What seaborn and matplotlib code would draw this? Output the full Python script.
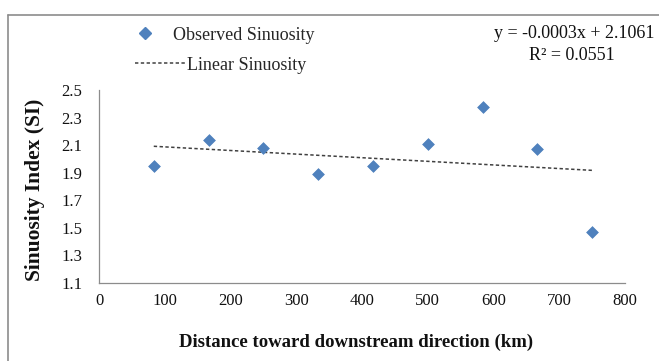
import matplotlib
matplotlib.use("Agg")
import matplotlib.pyplot as plt
import seaborn as sns
import pandas as pd
from matplotlib.lines import Line2D

distance_km = [83.3, 166.7, 250.0, 333.3, 416.7, 500.0, 583.3, 666.7, 750.0]
sinuosity = [1.95, 2.14, 2.08, 1.89, 1.95, 2.11, 2.38, 2.07, 1.47]
x_ticks = [0, 100, 200, 300, 400, 500, 600, 700, 800]
y_ticks = [1.1, 1.3, 1.5, 1.7, 1.9, 2.1, 2.3, 2.5]
equation_text = "y = -0.0003x + 2.1061"
r2_text = "R² = 0.0551"

df = pd.DataFrame({"distance": distance_km, "si": sinuosity})

sns.set_theme(style="white")
plt.rcParams["font.family"] = ["Liberation Serif", "DejaVu Serif"]

W, H = 659, 361
fig = plt.figure(figsize=(W / 100, H / 100), dpi=100)
ax = fig.add_axes([99 / W, 1 - 283 / H, (625 - 99) / W, (283 - 90) / H])

blue = "#4F81BD"
trend_color = "#404040"
trend_ls = (0, (2.2, 1.6))
sns.scatterplot(data=df, x="distance", y="si", marker="D", s=36, color=blue,
                edgecolor=blue, linewidth=0.5, ax=ax, zorder=3)
sns.regplot(data=df, x="distance", y="si", scatter=False, ci=None, truncate=True,
            ax=ax, line_kws=dict(color=trend_color, lw=1.1, ls=trend_ls))

ax.set_xlim(0, 800)
ax.set_ylim(1.1, 2.5)
ax.set_xticks(x_ticks)
ax.set_yticks(y_ticks)
ax.set_yticklabels([f"{v:.1f}" for v in y_ticks])
for side in ["top", "right"]:
    ax.spines[side].set_visible(False)
for side in ["left", "bottom"]:
    ax.spines[side].set_color("#8c8c8c")
    ax.spines[side].set_linewidth(0.9)
ax.tick_params(axis="both", which="major", direction="out", length=4, width=0.9,
               color="#8c8c8c", labelsize=12, labelcolor="#111111")
ax.tick_params(axis="x", pad=3)
ax.tick_params(axis="y", pad=8)
ax.set_xlabel("Distance toward downstream direction (km)", fontsize=13.5,
              fontweight="bold", color="#111111")
ax.set_ylabel("Sinuosity Index (SI)", fontsize=15.5, fontweight="bold",
              color="#111111")
ax.xaxis.set_label_coords((356 - 99) / 526, -(342 - 283) / 193)
ax.yaxis.set_label_coords(-(99 - 35) / 526, (283 - 190) / 193)
ax.xaxis.label.set_va("center")
ax.yaxis.label.set_va("center")

fs = 13
fs_px = fs * 100 / 72
# legend entry 1: marker
fig.legend([Line2D([], [], marker="D", ls="none", color=blue, markersize=5.8)],
           ["Observed Sinuosity"], loc="center left",
           bbox_to_anchor=(134 / W, 1 - 35 / H), frameon=False, fontsize=fs,
           handlelength=1.2, handletextpad=0.95, borderaxespad=0, borderpad=0)
# legend entry 2: trend line
fig.legend([Line2D([], [], color=trend_color, lw=1.1, ls=trend_ls)],
           ["Linear Sinuosity"], loc="center left",
           bbox_to_anchor=(135 / W, 1 - 65 / H), frameon=False, fontsize=fs,
           handlelength=50 / fs_px, handletextpad=0.12, borderaxespad=0, borderpad=0)

fig.text(655 / W, 1 - 34 / H, equation_text, ha="right", va="center",
         fontsize=13, color="#111111")
fig.text(572 / W, 1 - 55 / H, r2_text, ha="center", va="center",
         fontsize=13, color="#111111")

# outer frame
fig.add_artist(Line2D([8 / W, 8 / W], [0, 1 - 15 / H], transform=fig.transFigure,
                      color="#8c8c8c", lw=1.2))
fig.add_artist(Line2D([8 / W, 1], [1 - 15 / H, 1 - 15 / H], transform=fig.transFigure,
                      color="#8c8c8c", lw=1.2))

fig.savefig("out.png", dpi=100)
